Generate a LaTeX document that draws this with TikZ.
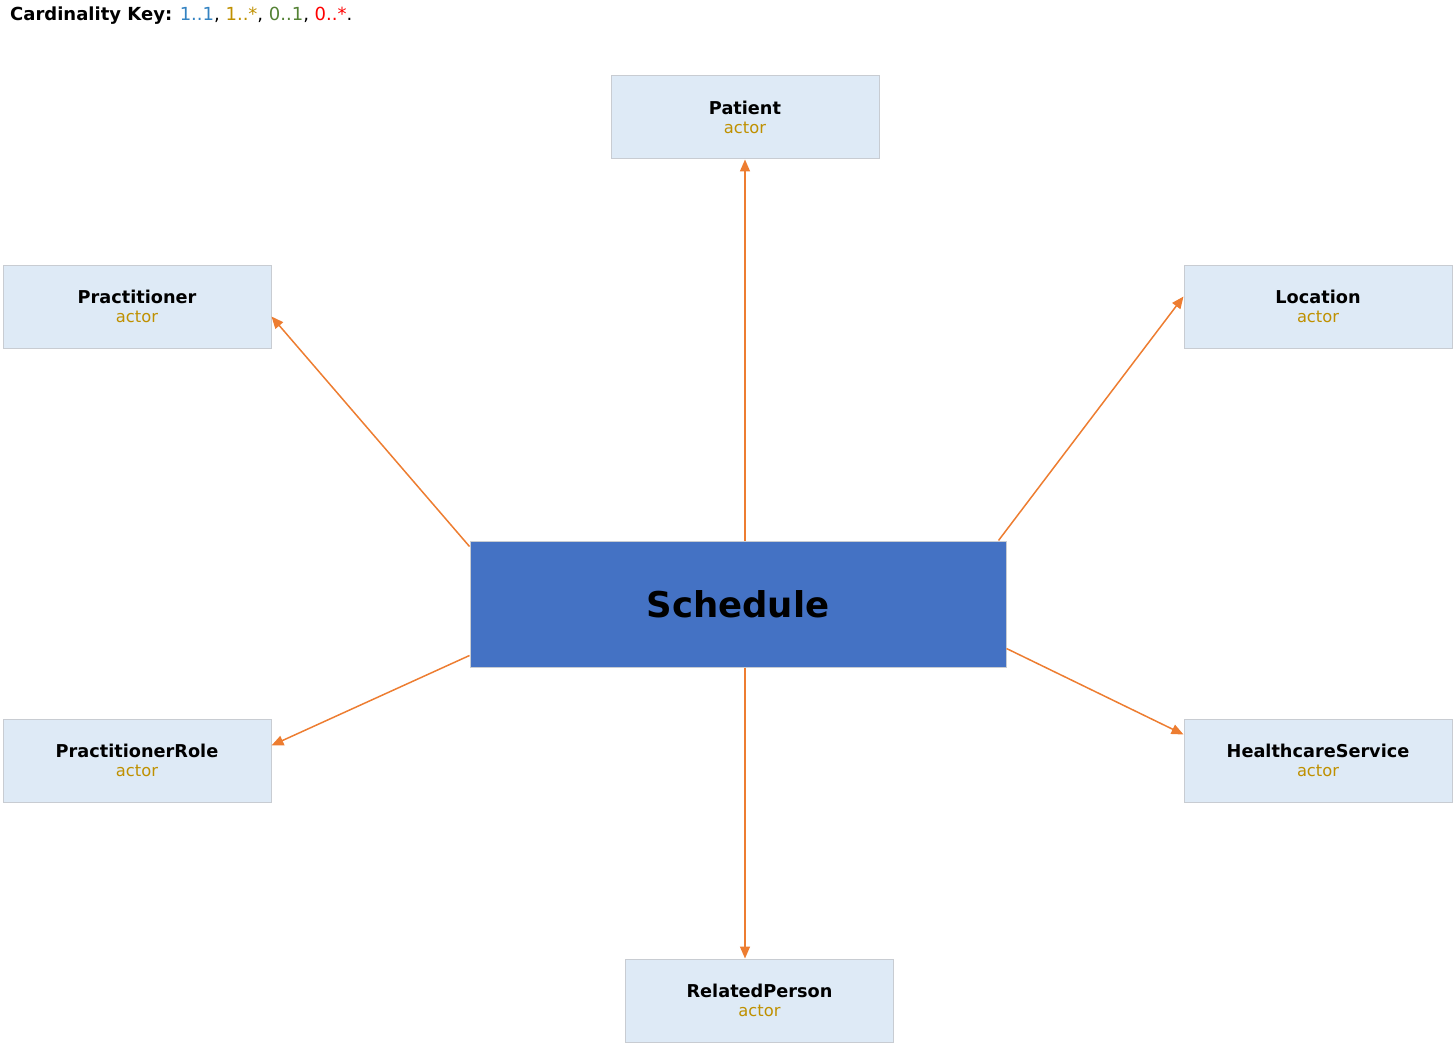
\documentclass[tikz,border=0pt]{standalone}
\usepackage{fontspec}
\setmainfont{DejaVu Sans}
\usepackage{xcolor}
\usepackage{tikz}
\usetikzlibrary{arrows.meta,positioning}
\definecolor{linkc}{RGB}{237,125,49}
\definecolor{boxfill}{RGB}{222,234,246}
\definecolor{boxdraw}{RGB}{200,204,210}
\definecolor{mainfill}{RGB}{68,114,196}
\definecolor{actorc}{RGB}{191,144,0}
\definecolor{oneone}{RGB}{52,131,194}
\definecolor{onemany}{RGB}{191,144,0}
\definecolor{zeroone}{RGB}{84,130,53}
\definecolor{zeromany}{RGB}{255,0,0}

\begin{document}
\begin{tikzpicture}[x=1pt,y=-1pt,
  actorbox/.style={draw=boxdraw,fill=boxfill,line width=1pt,minimum width=268pt,minimum height=83pt,inner sep=0pt,align=center,font=\fontsize{17.7}{21}\selectfont},
  mainbox/.style={draw=boxdraw,fill=mainfill,line width=1pt,minimum width=536pt,minimum height=126pt,inner sep=0pt,font=\fontsize{35.5}{40}\selectfont\bfseries},
  link/.style={draw=linkc,line width=1.5pt,-{Triangle[length=12pt,width=10pt]}}]
  \useasboundingbox (0,0) rectangle (1454,1043);
  \node[anchor=west,inner sep=0pt,font=\fontsize{18}{21}\selectfont] (key) at (10,16) {\textbf{Cardinality Key:} \textcolor{oneone}{1..1}, \textcolor{onemany}{1..*}, \textcolor{zeroone}{0..1}, \textcolor{zeromany}{0..*}.};
  \node[mainbox] (schedule) at (738,604) {Schedule};
  \foreach \n/\t/\x/\y in {patient/Patient/745/117.5,practitioner/Practitioner/137/306.5,location/Location/1318/306.5,practitionerrole/PractitionerRole/137/760.5,healthcareservice/HealthcareService/1318/760.5,relatedperson/RelatedPerson/759.5/1000.5}
    \node[actorbox] (\n) at (\x,\y) {\textbf{\t}\\[-1.5pt]{\fontsize{16.3}{19}\selectfont\textcolor{actorc}{actor}}};
  % links from the schedule
  \draw[link] (schedule.north -| patient) -- (patient.south);
  \draw[link] ([yshift=-6pt]schedule.north west) -- ([yshift=-10pt]practitioner.east);
  \draw[link] ([xshift=-8pt]schedule.north east) -- ([yshift=10pt]location.west);
  \draw[link] ([yshift=12pt]schedule.south west) -- ([yshift=15pt]practitionerrole.east);
  \draw[link] ([yshift=19pt]schedule.south east) -- ([yshift=26pt]healthcareservice.west);
  \draw[link] (schedule.south -| patient) -- (relatedperson.north -| patient);
\end{tikzpicture}
\end{document}
